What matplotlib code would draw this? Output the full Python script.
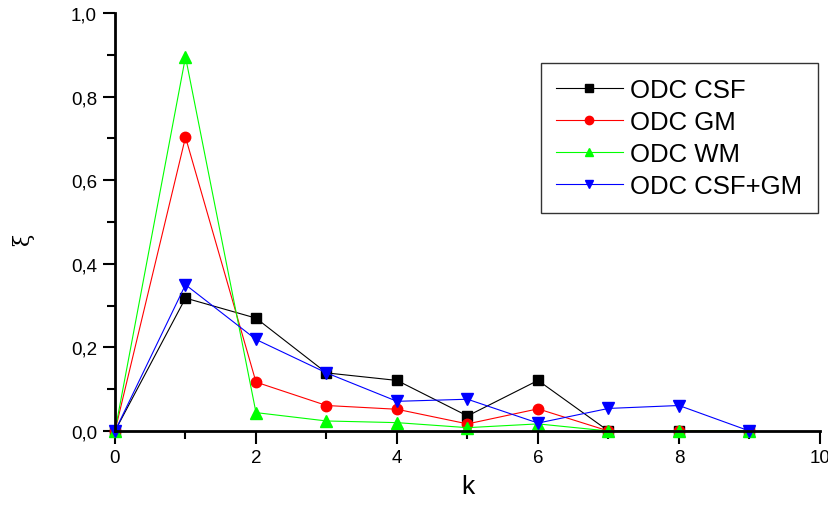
import matplotlib
matplotlib.use("Agg")
import matplotlib.pyplot as plt
from matplotlib.ticker import MultipleLocator, FuncFormatter

plt.rcParams['font.family'] = ['Liberation Sans', 'DejaVu Sans']

k = [0, 1, 2, 3, 4, 5, 6, 7, 8, 9]

odc_csf = [0.0, 0.318, 0.270, 0.139, 0.121, 0.036, 0.121, 0.0, 0.0, 0.0]
odc_gm = [0.0, 0.703, 0.117, 0.061, 0.052, 0.017, 0.053, 0.0, 0.0, 0.0]
odc_wm = [0.0, 0.895, 0.044, 0.024, 0.020, 0.008, 0.017, 0.0, 0.0, 0.0]
odc_csf_gm = [0.0, 0.350, 0.219, 0.139, 0.071, 0.076, 0.019, 0.054, 0.061, 0.0]

labels = ["ODC CSF", "ODC GM", "ODC WM", "ODC CSF+GM"]

fig = plt.figure(figsize=(8.29, 5.06), dpi=100)
ax = fig.add_axes([115/829, 74/506, 705/829, 418/506])

ax.plot(k, odc_csf, color='black', lw=0.8, marker='s', ms=7, label=labels[0], clip_on=False)
ax.plot(k, odc_gm, color='red', lw=0.8, marker='o', ms=7.5, label=labels[1], clip_on=False)
ax.plot(k, odc_wm, color='#00ff00', lw=0.8, marker='^', ms=8.5, label=labels[2], clip_on=False)
ax.plot(k, odc_csf_gm, color='blue', lw=0.8, marker='v', ms=8.5, label=labels[3], clip_on=False)

ax.set_xlim(0, 10)
ax.set_ylim(0, 1.0)
ax.spines['top'].set_visible(False)
ax.spines['right'].set_visible(False)
ax.spines['left'].set_linewidth(2)
ax.spines['bottom'].set_linewidth(2)

ax.xaxis.set_major_locator(MultipleLocator(2))
ax.xaxis.set_minor_locator(MultipleLocator(1))
ax.yaxis.set_major_locator(MultipleLocator(0.2))
ax.yaxis.set_minor_locator(MultipleLocator(0.1))
ax.yaxis.set_major_formatter(FuncFormatter(lambda v, p: f"{v:.1f}".replace('.', ',')))
ax.tick_params(which='major', length=9, width=1.5, labelsize=13.5, direction='out', pad=4)
ax.tick_params(which='minor', length=6, width=1.5, direction='out')

ax.set_xlabel("k", fontsize=19, labelpad=6)
ax.set_ylabel("ξ", fontsize=16, family='DejaVu Serif')
ax.yaxis.set_label_coords(-0.115, 0.46)

leg = ax.legend(loc='upper right', bbox_to_anchor=(818/829, 442/506),
                bbox_transform=fig.transFigure, fontsize=18.5, frameon=True,
                fancybox=False, edgecolor='black', handlelength=2.6,
                borderpad=0.6, labelspacing=0.3, handletextpad=0.3,
                borderaxespad=0)
leg.get_frame().set_linewidth(1.0)
for h in leg.legend_handles:
    h.set_markersize(6)

fig.savefig("out.png", dpi=100)
